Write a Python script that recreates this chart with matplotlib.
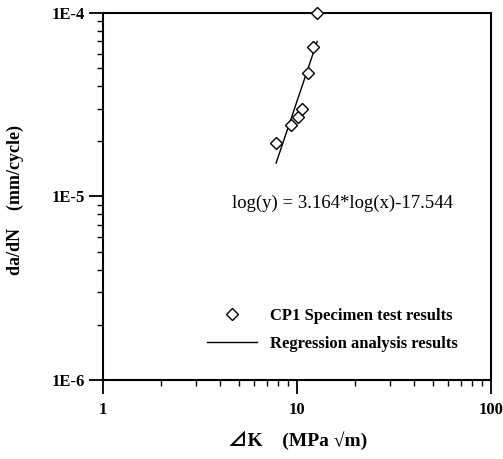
import numpy as np
import matplotlib
matplotlib.use("Agg")
import matplotlib.pyplot as plt
from matplotlib.ticker import NullFormatter

# ---------------------------------------------------------
# data
# ---------------------------------------------------------
delta_k = [7.8, 9.28, 10.08, 10.65, 11.36, 12.05, 12.7]           # MPa sqrt(m)
dadn = [1.96e-5, 2.45e-5, 2.72e-5, 2.99e-5, 4.73e-5, 6.5e-5, 1.0e-4]  # mm/cycle

reg_x = [7.8, 12.7]
reg_y = [1.52e-5, 6.98e-5]

x_ticks = [1, 10, 100]
x_tick_labels = ["1", "10", "100"]
y_ticks = [1e-6, 1e-5, 1e-4]
y_tick_labels = ["1E-6", "1E-5", "1E-4"]

equation = "log(y) = 3.164*log(x)-17.544"
legend_labels = ["CP1 Specimen test results", "Regression analysis results"]

serif = ["Liberation Serif", "DejaVu Serif"]
plt.rcParams["font.family"] = serif

# ---------------------------------------------------------
# figure
# ---------------------------------------------------------
fig = plt.figure(figsize=(5.03, 4.59), dpi=100)
ax = fig.add_axes([0.205, 0.172, 0.771, 0.8])

ax.set_xscale("log")
ax.set_yscale("log")
ax.set_xlim(1, 100)
ax.set_ylim(1e-6, 1e-4)

pts, = ax.plot(delta_k, dadn, linestyle="None", marker="D", markersize=6,
               markerfacecolor="white", markeredgecolor="black",
               markeredgewidth=1.0, clip_on=False, zorder=5)
reg, = ax.plot(reg_x, reg_y, color="black", linewidth=1.0)

ax.set_xticks(x_ticks, x_tick_labels)
ax.set_yticks(y_ticks, y_tick_labels)
ax.xaxis.set_minor_formatter(NullFormatter())
ax.yaxis.set_minor_formatter(NullFormatter())

ax.tick_params(which="major", direction="out", length=10, width=1.3)
ax.tick_params(which="minor", direction="out", length=4, width=1.0)
ax.tick_params(axis="x", which="major", pad=6)
ax.tick_params(axis="y", which="major", pad=3)
for lab in ax.get_xticklabels() + ax.get_yticklabels():
    lab.set_fontweight("bold")
    lab.set_fontsize(12)

for side in ["left", "bottom", "top", "right"]:
    ax.spines[side].set_linewidth(1.5)

ax.text(0.332, 0.482, equation, transform=ax.transAxes,
        ha="left", va="center", fontsize=13.5)

ax.legend([pts, reg], legend_labels, loc="center right",
          bbox_to_anchor=(0.937, 0.136), frameon=False, borderpad=0,
          handlelength=3.0, handletextpad=0.8, labelspacing=0.7,
          prop={"family": serif, "weight": "bold", "size": 12})

fig.text(0.03, 0.565, "da/dN    (mm/cycle)", rotation=90,
         ha="center", va="center", fontsize=13, fontweight="bold")
fig.text(0.592, 0.041, "⊿K    (MPa √m)", ha="center", va="center",
         fontsize=14, fontweight="bold",
         family=["Liberation Serif", "Noto Sans CJK JP", "DejaVu Sans"])

fig.savefig("out.png", dpi=100)
